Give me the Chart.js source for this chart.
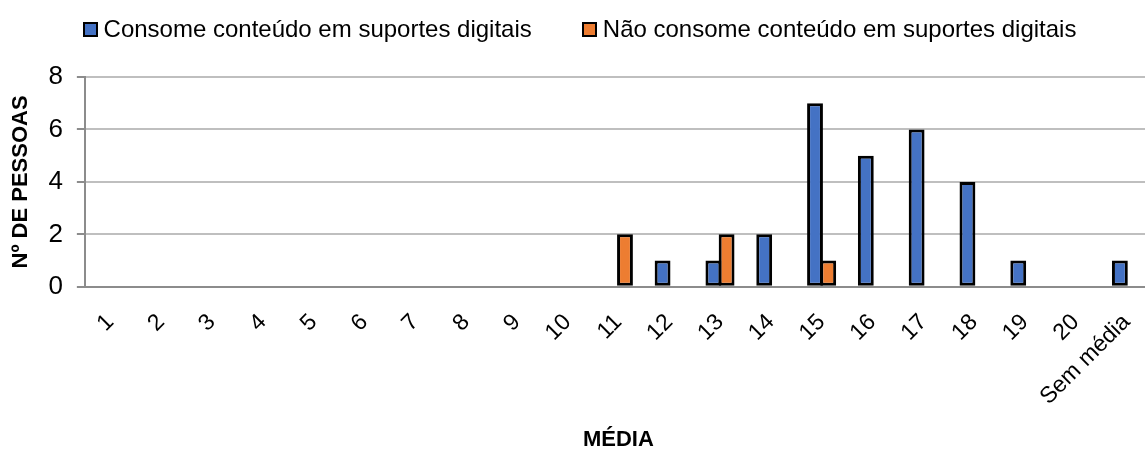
<!DOCTYPE html>
<html lang="pt">
<head>
    <meta charset="UTF-8">
    <title>Média vs consumo de conteúdo em suportes digitais</title>
    <script src="https://cdn.jsdelivr.net/npm/chart.js"></script>
    <style>
        body { margin: 0; background: #fff; overflow: hidden; }
        #wrap { position: relative; width: 1145px; height: 453px; overflow: hidden; }
        #area { position: absolute; top: 0; left: 0; width: 1160px; height: 453px; }
        #legenda {
            position: absolute; top: 17px; left: 0; width: 100%; z-index: 1;
            display: flex; justify-content: center; padding-left: 14px; box-sizing: border-box;
            font-family: "Liberation Sans", Arial, sans-serif; font-size: 24px; line-height: 24px; color: #000;
        }
        #legenda .item { display: flex; align-items: center; margin-right: 50px; }
        #legenda .item:last-child { margin-right: 0; }
        #legenda .caixa { width: 11px; height: 11px; border: 2px solid #000; margin-right: 6px; }
    </style>
</head>
<body>
<div id="wrap">
    <div id="legenda"></div>
    <div id="area"><canvas id="grafico"></canvas></div>
</div>
<script>
    // Médias (categorias do eixo X)
    const categorias = ['1', '2', '3', '4', '5', '6', '7', '8', '9', '10',
        '11', '12', '13', '14', '15', '16', '17', '18', '19', '20', 'Sem média'];

    // Nº de pessoas por média
    const consome = [0, 0, 0, 0, 0, 0, 0, 0, 0, 0, 0, 1, 1, 2, 7, 5, 6, 4, 1, 0, 1];
    const naoConsome = [0, 0, 0, 0, 0, 0, 0, 0, 0, 0, 2, 0, 2, 0, 1, 0, 0, 0, 0, 0, 0];

    const fonte = '"Liberation Sans", Arial, sans-serif';

    const ctx = document.getElementById('grafico').getContext('2d');
    const grafico = new Chart(ctx, {
        type: 'bar',
        data: {
            labels: categorias,
            datasets: [{
                label: 'Consome conteúdo em suportes digitais',
                data: consome,
                backgroundColor: '#4472c4',
                borderColor: '#000',
                borderWidth: 3,
                borderSkipped: false
            }, {
                label: 'Não consome conteúdo em suportes digitais',
                data: naoConsome,
                backgroundColor: '#ed7d31',
                borderColor: '#000',
                borderWidth: 3,
                borderSkipped: false
            }]
        },
        options: {
            responsive: true,
            maintainAspectRatio: false,
            animation: false,
            datasets: {
                bar: { categoryPercentage: 0.52, barPercentage: 1.2 }
            },
            layout: { padding: { top: 77, right: 0, bottom: 0, left: 0 } },
            plugins: {
                legend: { display: false },
                tooltip: { enabled: false }
            },
            scales: {
                x: {
                    grid: { display: false },
                    border: { color: '#8c8c8c', width: 2 },
                    ticks: {
                        color: '#000',
                        font: { family: fonte, size: 23 },
                        minRotation: 45,
                        maxRotation: 45,
                        autoSkip: false,
                        padding: 14
                    },
                    title: {
                        display: true,
                        text: 'MÉDIA',
                        color: '#000',
                        font: { family: fonte, size: 22, weight: 'bold' },
                        padding: { top: 2, bottom: 0 }
                    }
                },
                y: {
                    min: 0,
                    max: 8,
                    ticks: {
                        stepSize: 2,
                        color: '#000',
                        font: { family: fonte, size: 26 },
                        padding: 14
                    },
                    grid: {
                        color: '#bfbfbf',
                        lineWidth: 2,
                        tickColor: '#8c8c8c',
                        tickLength: 8
                    },
                    border: { color: '#8c8c8c', width: 2 },
                    title: {
                        display: true,
                        text: 'Nº DE PESSOAS',
                        color: '#000',
                        font: { family: fonte, size: 22, weight: 'bold' },
                        padding: { top: 8, bottom: 0 }
                    }
                }
            }
        }
    });

    // Legenda em HTML a partir dos datasets
    const legenda = document.getElementById('legenda');
    grafico.data.datasets.forEach(ds => {
        const item = document.createElement('div');
        item.className = 'item';
        const caixa = document.createElement('span');
        caixa.className = 'caixa';
        caixa.style.background = ds.backgroundColor;
        const texto = document.createElement('span');
        texto.textContent = ds.label;
        item.appendChild(caixa);
        item.appendChild(texto);
        legenda.appendChild(item);
    });
</script>
</body>
</html>
